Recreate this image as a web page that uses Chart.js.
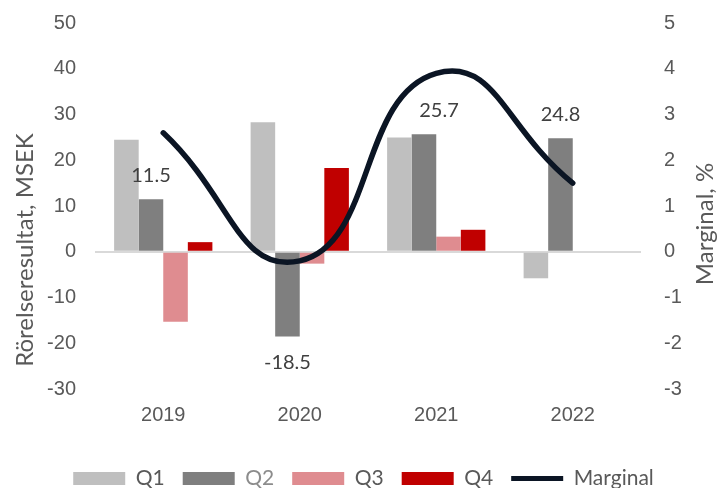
<!DOCTYPE html>
<html>
<head>
<meta charset="utf-8">
<script src="https://cdn.jsdelivr.net/npm/chart.js@4/dist/chart.umd.min.js"></script>
<style>
  html, body { margin: 0; padding: 0; background: #fff; }
</style>
</head>
<body>
<canvas id="resultChart" width="727" height="488"></canvas>
<script>
// data
const years = ['2019', '2020', '2021', '2022'];
const q1 = [24.5, 28.3, 25.0, -5.8];
const q2 = [11.5, -18.5, 25.7, 24.8];
const q3 = [-15.3, -2.6, 3.3, null];
const q4 = [2.1, 18.3, 4.8, null];
const marginal = [2.6, -0.2, 3.9, 1.5];

const leftTicks = { min: -30, max: 50, step: 10 };
const rightTicks = { min: -3, max: 5, step: 1 };

const tickColor = '#595959';

// labels on top of the Q2 bars
const q2Labels = {
    id: 'q2Labels',
    afterDatasetsDraw(chart) {
        const meta = chart.getDatasetMeta(1);
        const ctx = chart.ctx;
        ctx.save();
        ctx.font = '20px Lato';
        ctx.fillStyle = '#404040';
        ctx.textAlign = 'center';
        ctx.textBaseline = 'middle';
        meta.data.forEach((bar, i) => {
            const v = q2[i];
            if (v === null) return;
            const nudge = i === 2 ? 15 : 0;
            const y = v >= 0 ? bar.y - 24 : bar.y + 26;
            ctx.fillText(v.toFixed(1), bar.x + nudge, y);
        });
        ctx.restore();
    }
};

// both axis titles read bottom to top
const axisTitles = {
    id: 'axisTitles',
    afterDraw(chart) {
        const ctx = chart.ctx;
        ctx.save();
        ctx.font = '24px Lato';
        ctx.fillStyle = tickColor;
        ctx.textAlign = 'center';
        ctx.textBaseline = 'middle';
        [['Rörelseresultat, MSEK', 25, 250], ['Marginal, %', 705, 224]].forEach(([t, x, y]) => {
            ctx.save();
            ctx.translate(x, y);
            ctx.rotate(-Math.PI / 2);
            ctx.fillText(t, 0, 0);
            ctx.restore();
        });
        ctx.restore();
    }
};

const legendHeight = {
    id: 'legendHeight',
    beforeInit(chart) {
        const fit = chart.legend.fit;
        chart.legend.fit = function () {
            fit.call(this);
            this.height = 38;
        };
    }
};

function fixY(width) {
    return function (scale) {
        scale.width = width;
        scale.paddingTop = 0;
        scale.paddingBottom = 0;
    };
}

const ctx = document.getElementById('resultChart').getContext('2d');
new Chart(ctx, {
    type: 'bar',
    data: {
        labels: years,
        datasets: [
            { label: 'Q1', data: q1, backgroundColor: '#bfbfbf', yAxisID: 'y' },
            { label: 'Q2', data: q2, backgroundColor: '#7f7f7f', yAxisID: 'y' },
            { label: 'Q3', data: q3, backgroundColor: '#df8c90', yAxisID: 'y' },
            { label: 'Q4', data: q4, backgroundColor: '#c00000', yAxisID: 'y' },
            { label: 'Marginal', type: 'line', data: marginal, yAxisID: 'y1', order: -1,
              borderColor: '#0b1524', backgroundColor: '#0b1524', borderWidth: 5.5,
              pointRadius: 0, tension: 0.5, borderCapStyle: 'round' }
        ]
    },
    options: {
        responsive: false,
        animation: false,
        layout: { padding: { top: 23, left: 0, right: 0, bottom: 0 } },
        datasets: {
            bar: { categoryPercentage: 0.72, barPercentage: 1.0 }
        },
        plugins: {
            tooltip: { enabled: false },
            legend: {
                position: 'bottom',
                labels: {
                    usePointStyle: true,
                    pointStyleWidth: 52,
                    boxHeight: 13,
                    padding: 18,
                    font: { family: 'Lato', size: 21 },
                    generateLabels(chart) {
                        return chart.data.datasets.map((d, i) => {
                            const isLine = d.type === 'line';
                            return {
                                text: d.label,
                                datasetIndex: i,
                                fillStyle: d.backgroundColor,
                                strokeStyle: isLine ? d.borderColor : d.backgroundColor,
                                lineWidth: isLine ? 5 : 0,
                                pointStyle: isLine ? 'line' : 'rect',
                                fontColor: d.label === 'Q2' ? '#8c8c8c' : tickColor,
                                hidden: false
                            };
                        });
                    }
                }
            }
        },
        scales: {
            x: {
                grid: { display: false, drawTicks: false },
                border: { display: false },
                ticks: { color: tickColor, font: { family: 'Liberation Sans', size: 20 }, padding: 14 },
                afterFit(scale) { scale.height = 61; }
            },
            y: {
                position: 'left',
                min: leftTicks.min,
                max: leftTicks.max,
                ticks: { stepSize: leftTicks.step, color: tickColor, padding: 19,
                         font: { family: 'Liberation Sans', size: 20 } },
                grid: {
                    drawTicks: false,
                    color: c => c.tick && c.tick.value === 0 ? '#d9d9d9' : 'rgba(0,0,0,0)',
                    lineWidth: 2
                },
                border: { display: false },
                afterFit: fixY(95)
            },
            y1: {
                position: 'right',
                min: rightTicks.min,
                max: rightTicks.max,
                ticks: { stepSize: rightTicks.step, color: tickColor, padding: 23,
                         font: { family: 'Liberation Sans', size: 20 } },
                grid: { display: false, drawTicks: false },
                border: { display: false },
                afterFit: fixY(86)
            }
        }
    },
    plugins: [q2Labels, axisTitles, legendHeight]
});
</script>
</body>
</html>
